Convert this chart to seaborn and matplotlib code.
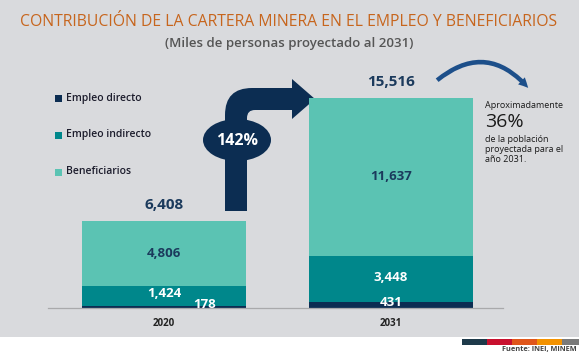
import numpy as np
import pandas as pd
import seaborn as sns
import matplotlib.pyplot as plt
from matplotlib.patches import Rectangle, Ellipse, PathPatch, FancyArrowPatch
from matplotlib.path import Path

# Data (miles de personas)
years = ["2020", "2031"]
directo = [178, 431]
indirecto = [1424, 3448]
beneficiarios = [4806, 11637]
totales = [6408, 15516]

series_names = ["Empleo directo", "Empleo indirecto", "Beneficiarios"]
colors = ["#0c2d52", "#00878b", "#5bc3b3"]
bg = "#d9dadd"

sns.set_style("white")
plt.rcParams['font.family'] = ['Open Sans', 'DejaVu Sans']

fig = plt.figure(figsize=(5.79, 3.55), dpi=100)
fig.patch.set_facecolor(bg)

# overlay axes in pixel coordinates for decorations
ov = fig.add_axes([0, 0, 1, 1], zorder=0)
ov.set_xlim(0, 579)
ov.set_ylim(355, 0)
ov.axis("off")
ov.add_patch(Rectangle((0, 337), 579, 18, color="white", lw=0))

# bar axes
W, H = 579, 355
ax = fig.add_axes([48 / W, (H - 308) / H, 455 / W, 248 / H], zorder=1)
ax.patch.set_alpha(0)

df = pd.DataFrame({"year": years, "directo": directo,
                   "indirecto": indirecto, "beneficiarios": beneficiarios})
df["c2"] = df["directo"] + df["indirecto"]
df["c3"] = df["c2"] + df["beneficiarios"]

bw = 0.72
sns.barplot(data=df, x="year", y="c3", color=colors[2], saturation=1, width=bw, linewidth=0, ax=ax)
sns.barplot(data=df, x="year", y="c2", color=colors[1], saturation=1, width=bw, linewidth=0, ax=ax)
sns.barplot(data=df, x="year", y="directo", color=colors[0], saturation=1, width=bw, linewidth=0, ax=ax)

ax.set_xlim(-0.511, 1.493)
ax.set_ylim(0, 15516 * 248 / 210)
ax.set_xlabel("")
ax.set_ylabel("")
ax.set_yticks([])
for s in ["top", "right", "left"]:
    ax.spines[s].set_visible(False)
ax.spines["bottom"].set_color("#a9a9ab")
ax.spines["bottom"].set_linewidth(0.9)
ax.tick_params(axis="x", length=0, pad=7)
for lab in ax.get_xticklabels():
    lab.set_fontweight("bold")
    lab.set_fontsize(7)
    lab.set_color("#222222")

# value labels
for i in range(2):
    ax.text(i, df["c2"][i] + beneficiarios[i] / 2, f"{beneficiarios[i]:,}", ha="center", va="center",
            fontsize=9.5, fontweight="bold", color="#1b3a5c")
    ax.text(i, totales[i] + 700, f"{totales[i]:,}", ha="center", va="bottom",
            fontsize=11, fontweight="bold", color="#1b3a5c")
ax.text(0, 1050, f"{indirecto[0]:,}", ha="center", va="center", fontsize=9.5, fontweight="bold", color="white")
ax.text(0.18, 280, f"{directo[0]:,}", ha="center", va="center", fontsize=9.5, fontweight="bold", color="white")
ax.text(1, 2250, f"{indirecto[1]:,}", ha="center", va="center", fontsize=9.5, fontweight="bold", color="white")
ax.text(1, 440, f"{directo[1]:,}", ha="center", va="center", fontsize=9.5, fontweight="bold", color="white")

# title
ov.text(289, 22, "CONTRIBUCIÓN DE LA CARTERA MINERA EN EL EMPLEO Y BENEFICIARIOS",
        ha="center", va="center", fontsize=11.3, color="#c7651d")
ov.text(289, 44, "(Miles de personas proyectado al 2031)", ha="center", va="center",
        fontsize=9.5, color="#555555", fontweight="semibold")

# legend
for k, (name, c) in enumerate(zip(series_names, colors)):
    y = 98 + k * 37
    ov.add_patch(Rectangle((55, y - 3.5), 7, 7, color=c, lw=0))
    ov.text(66, y, name, ha="left", va="center", fontsize=7.5, color="#1c1c2c", fontweight="semibold")

# big arrow with 142%
verts = [(225, 211), (225, 115), (225, 88), (252, 88), (292, 88), (292, 79), (315, 99),
         (292, 119), (292, 110), (255, 110), (247, 110), (247, 118), (247, 211), (225, 211)]
codes = [Path.MOVETO, Path.LINETO, Path.CURVE3, Path.CURVE3, Path.LINETO, Path.LINETO, Path.LINETO,
         Path.LINETO, Path.LINETO, Path.LINETO, Path.CURVE3, Path.CURVE3, Path.LINETO, Path.CLOSEPOLY]
ov.add_patch(PathPatch(Path(verts, codes), facecolor=colors[0], edgecolor="none"))
ov.add_patch(Ellipse((237, 140), 68, 42, facecolor=colors[0], edgecolor="none"))
ov.text(237, 141, "142%", ha="center", va="center", fontsize=11.5, fontweight="bold", color="white")

# curved arrow top right
ov.add_patch(FancyArrowPatch((435, 82), (530, 90), connectionstyle="arc3,rad=-0.5",
                             arrowstyle="simple,head_width=7,head_length=7,tail_width=3.2",
                             color="#1d4f8a", lw=0))

# note
ov.text(485, 105, "Aproximadamente", ha="left", va="center", fontsize=6.5, color="#1a1a1a")
ov.text(485, 122, "36%", ha="left", va="center", fontsize=14, color="#1a1a1a")
ov.text(485, 135, "de la población\nproyectada para el\naño 2031.", ha="left", va="top",
        fontsize=6.5, color="#1a1a1a", linespacing=1.15)

# footer
strip_colors = ["#1e3a4a", "#c8102e", "#e0561b", "#f39200", "#7a7a7a"]
x0 = 462
for c in strip_colors:
    ov.add_patch(Rectangle((x0, 339), 25, 6, color=c, lw=0))
    x0 += 25
ov.text(577, 350, "Fuente: INEI, MINEM", ha="right", va="center", fontsize=5.3,
        color="#444444", fontweight="bold")

fig.savefig("out.png", dpi=100, facecolor=fig.get_facecolor())
